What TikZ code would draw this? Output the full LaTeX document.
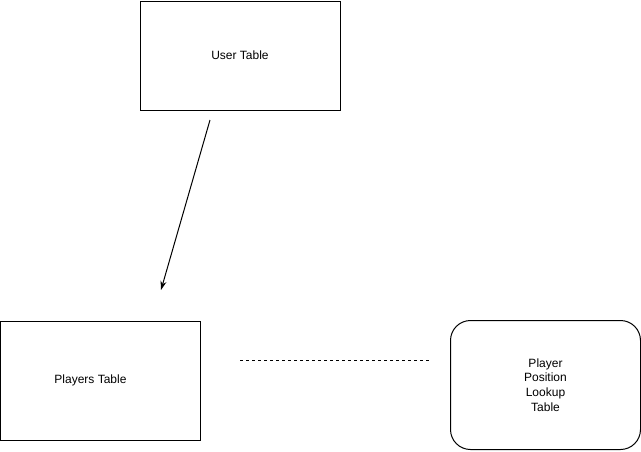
\documentclass[tikz,border=0pt]{standalone}
\usepackage{fontspec}
\setmainfont{Liberation Sans}
\usetikzlibrary{arrows.meta}
\tikzset{
	tbl/.style={draw, line width=1pt, minimum width=200pt, align=center, font=\fontsize{12}{14.7}\selectfont},
	lookup/.style={tbl, rounded corners=20pt, minimum width=190pt, minimum height=129pt},
}
\begin{document}
\begin{tikzpicture}[x=1pt,y=-1pt]
\useasboundingbox (0,0) rectangle (641,451);
\node[tbl, minimum height=109pt] (user) at (240,55.5) {User Table};
\node[tbl, minimum height=119pt] (players) at (100,380.5) {Players Table\hspace{19pt}};
\node[lookup] (lookupt) at (545.5,385) {Player\\Position\\Lookup\\Table};
\coordinate (fromuser) at (210,120);
\coordinate (toplayers) at (161,290);
\coordinate (dashl) at (240,360);
\coordinate (dashr) at (430,360);
\draw[line width=1pt, -{Stealth[length=9pt,width=6pt]}] (fromuser)--(toplayers);
\draw[line width=1pt, dash pattern=on 3pt off 3pt] (dashl)--(dashr);
\end{tikzpicture}
\end{document}
